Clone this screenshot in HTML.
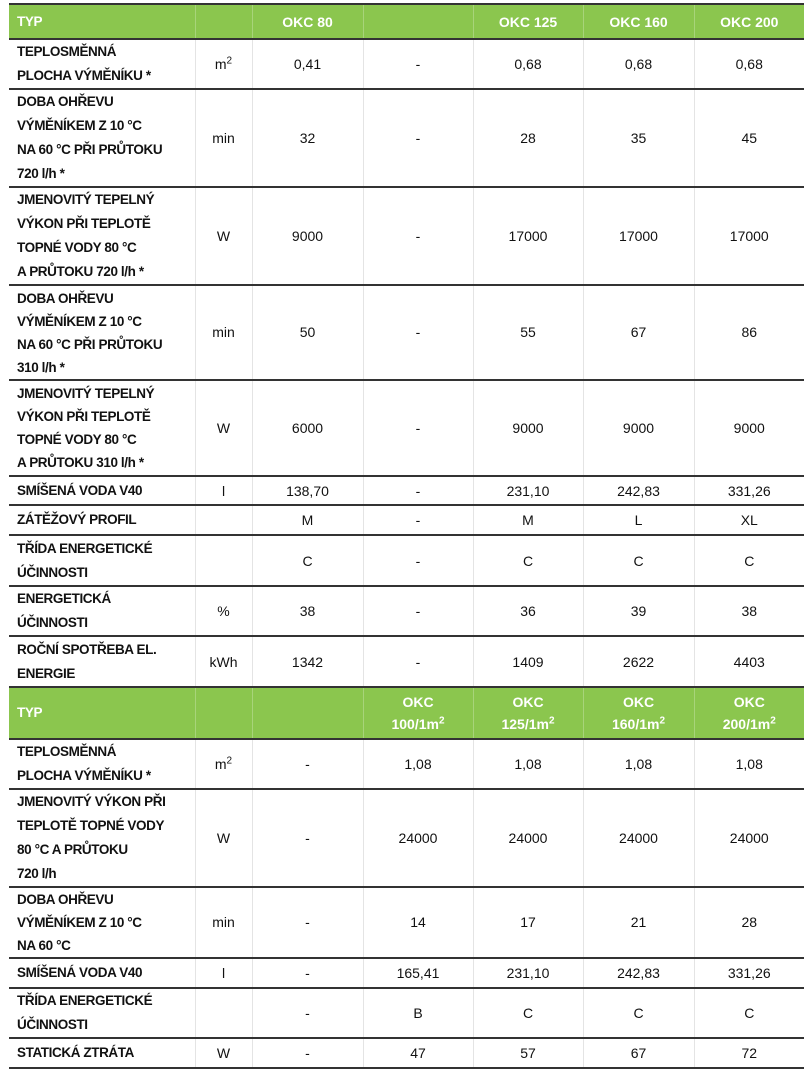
<!DOCTYPE html>
<html><head><meta charset="utf-8">
<style>
html,body{margin:0;padding:0;background:#fff;width:812px;height:1078px;overflow:hidden}
table{position:absolute;left:9px;top:3px;border-collapse:collapse;table-layout:fixed;width:795px;
font-family:"Liberation Sans",sans-serif;font-size:14px;color:#111}
td{padding:0;border-top:2px solid #333;text-align:center;vertical-align:middle;line-height:24px;border-left:1px solid #e4e4e4}
td:first-child{border-left:none;text-align:left;padding-left:8px;font-weight:bold;letter-spacing:-0.4px;font-size:13.5px}
tr.h td{background:#8bc64e;color:#fff;font-weight:bold;border-left:1px solid #a8d47a;line-height:22px}
tr.h td:first-child{border-left:none}
tr.t td{line-height:23px}
tr:last-child td{border-bottom:2px solid #333}
sup{font-size:10px;line-height:0}
</style></head><body>
<table>
<colgroup><col style="width:186px"><col style="width:57px"><col style="width:111px"><col style="width:110px"><col style="width:110px"><col style="width:111px"><col style="width:110px"></colgroup>
<tr class="h" style="height:35px"><td>TYP</td><td></td><td>OKC 80</td><td></td><td>OKC 125</td><td>OKC 160</td><td>OKC 200</td></tr>
<tr style="height:47px"><td>TEPLOSMĚNNÁ<br>PLOCHA VÝMĚNÍKU *</td><td>m<sup>2</sup></td><td>0,41</td><td>-</td><td>0,68</td><td>0,68</td><td>0,68</td></tr>
<tr style="height:95px"><td>DOBA OHŘEVU<br>VÝMĚNÍKEM Z 10 °C<br>NA 60 °C PŘI PRŮTOKU<br>720 l/h *</td><td>min</td><td>32</td><td>-</td><td>28</td><td>35</td><td>45</td></tr>
<tr style="height:96px"><td>JMENOVITÝ TEPELNÝ<br>VÝKON PŘI TEPLOTĚ<br>TOPNÉ VODY 80 °C<br>A PRŮTOKU 720 l/h *</td><td>W</td><td>9000</td><td>-</td><td>17000</td><td>17000</td><td>17000</td></tr>
<tr class="t" style="height:95px"><td>DOBA OHŘEVU<br>VÝMĚNÍKEM Z 10 °C<br>NA 60 °C PŘI PRŮTOKU<br>310 l/h *</td><td>min</td><td>50</td><td>-</td><td>55</td><td>67</td><td>86</td></tr>
<tr class="t" style="height:96px"><td>JMENOVITÝ TEPELNÝ<br>VÝKON PŘI TEPLOTĚ<br>TOPNÉ VODY 80 °C<br>A PRŮTOKU 310 l/h *</td><td>W</td><td>6000</td><td>-</td><td>9000</td><td>9000</td><td>9000</td></tr>
<tr style="height:29px"><td>SMÍŠENÁ VODA V40</td><td>l</td><td>138,70</td><td>-</td><td>231,10</td><td>242,83</td><td>331,26</td></tr>
<tr style="height:30px"><td>ZÁTĚŽOVÝ PROFIL</td><td></td><td>M</td><td>-</td><td>M</td><td>L</td><td>XL</td></tr>
<tr style="height:51px"><td>TŘÍDA ENERGETICKÉ<br>ÚČINNOSTI</td><td></td><td>C</td><td>-</td><td>C</td><td>C</td><td>C</td></tr>
<tr style="height:49px"><td>ENERGETICKÁ<br>ÚČINNOSTI</td><td>%</td><td>38</td><td>-</td><td>36</td><td>39</td><td>38</td></tr>
<tr style="height:51px"><td>ROČNÍ SPOTŘEBA EL.<br>ENERGIE</td><td>kWh</td><td>1342</td><td>-</td><td>1409</td><td>2622</td><td>4403</td></tr>
<tr class="h" style="height:52px"><td>TYP</td><td></td><td></td><td>OKC<br>100/1m<sup>2</sup></td><td>OKC<br>125/1m<sup>2</sup></td><td>OKC<br>160/1m<sup>2</sup></td><td>OKC<br>200/1m<sup>2</sup></td></tr>
<tr style="height:47px"><td>TEPLOSMĚNNÁ<br>PLOCHA VÝMĚNÍKU *</td><td>m<sup>2</sup></td><td>-</td><td>1,08</td><td>1,08</td><td>1,08</td><td>1,08</td></tr>
<tr style="height:95px"><td>JMENOVITÝ VÝKON PŘI<br>TEPLOTĚ TOPNÉ VODY<br>80 °C A PRŮTOKU<br>720 l/h</td><td>W</td><td>-</td><td>24000</td><td>24000</td><td>24000</td><td>24000</td></tr>
<tr class="t" style="height:70px"><td>DOBA OHŘEVU<br>VÝMĚNÍKEM Z 10 °C<br>NA 60 °C</td><td>min</td><td>-</td><td>14</td><td>17</td><td>21</td><td>28</td></tr>
<tr style="height:30px"><td>SMÍŠENÁ VODA V40</td><td>l</td><td>-</td><td>165,41</td><td>231,10</td><td>242,83</td><td>331,26</td></tr>
<tr style="height:47px"><td>TŘÍDA ENERGETICKÉ<br>ÚČINNOSTI</td><td></td><td>-</td><td>B</td><td>C</td><td>C</td><td>C</td></tr>
<tr style="height:30px"><td>STATICKÁ ZTRÁTA</td><td>W</td><td>-</td><td>47</td><td>57</td><td>67</td><td>72</td></tr>
</table>
</body></html>
